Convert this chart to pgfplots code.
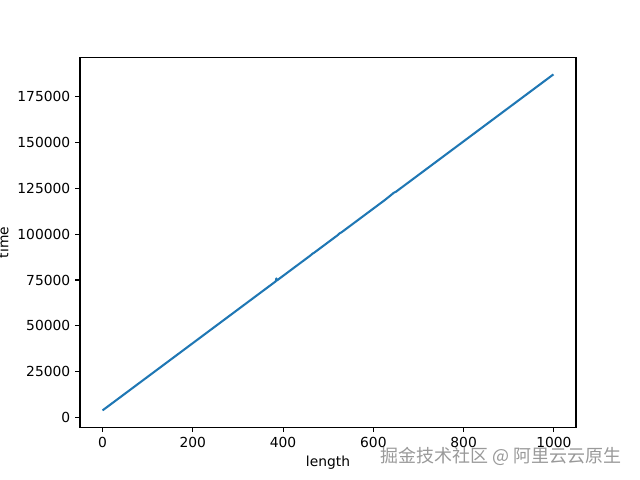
\documentclass[border=0pt]{standalone}
\usepackage{pgfplots}
\pgfplotsset{compat=1.18}
\usepackage{fontspec}
\setmainfont{DejaVu Sans}
\newfontfamily\cjk{Noto Sans CJK SC}
\definecolor{c0}{HTML}{1F77B4}
\begin{document}
\begin{tikzpicture}
\path[use as bounding box] (-0.8in,-0.528in) rectangle (5.6in,4.272in);
\begin{axis}[
  at={(0,0)}, anchor=south west,
  scale only axis, width=4.96in, height=3.696in,
  xmin=-49.95, xmax=1048.95, ymin=-5150, ymax=196150,
  xtick={0,200,400,600,800,1000},
  xticklabels={0,200,400,600,800,1000},
  ytick={0,25000,50000,75000,100000,125000,150000,175000},
  yticklabels={0,25000,50000,75000,100000,125000,150000,175000},
  scaled y ticks=false, scaled x ticks=false,
  tick label style={font=\fontsize{10}{12}\selectfont},
  label style={font=\fontsize{10}{12}\selectfont},
  tick align=outside, tick pos=lower,
  major tick length=3.5pt,
  every tick/.style={line width=0.8pt, black},
  axis line style={line width=0.8pt},
  xlabel={length}, ylabel={time},
  xlabel style={at={(axis description cs:0.5,0)}, anchor=north, yshift=-17pt},
  ylabel style={at={(axis description cs:0,0.5)}, anchor=south, yshift=48pt},
  clip=false,
]
\addplot[c0, line width=1.5pt, line join=round] coordinates {
(0,4000) (50,13160) (100,22320) (150,31480) (200,40640) (250,49800)
(300,58960) (350,68120) (380,73616) (384,74350) (385,75900) (386,74700)
(400,77280) (450,86440) (460,88272) (465,89300) (470,90104) (500,95600)
(520,99264) (525,100380) (530,101100) (550,104760) (575,109340) (600,113920)
(625,118500) (640,121448) (645,122500) (650,123080) (675,127660) (700,132240)
(725,136820) (750,141400) (775,145980) (800,150560) (825,155140)
(850,159720) (875,164300) (900,168880) (925,173460) (950,178040)
(975,182620) (999,187017)
};
\end{axis}
\node[text=black!40, font=\cjk\fontsize{13}{15}\selectfont] at (4.21in,-0.29in) {掘金技术社区 @ 阿里云云原生};
\end{tikzpicture}
\end{document}
